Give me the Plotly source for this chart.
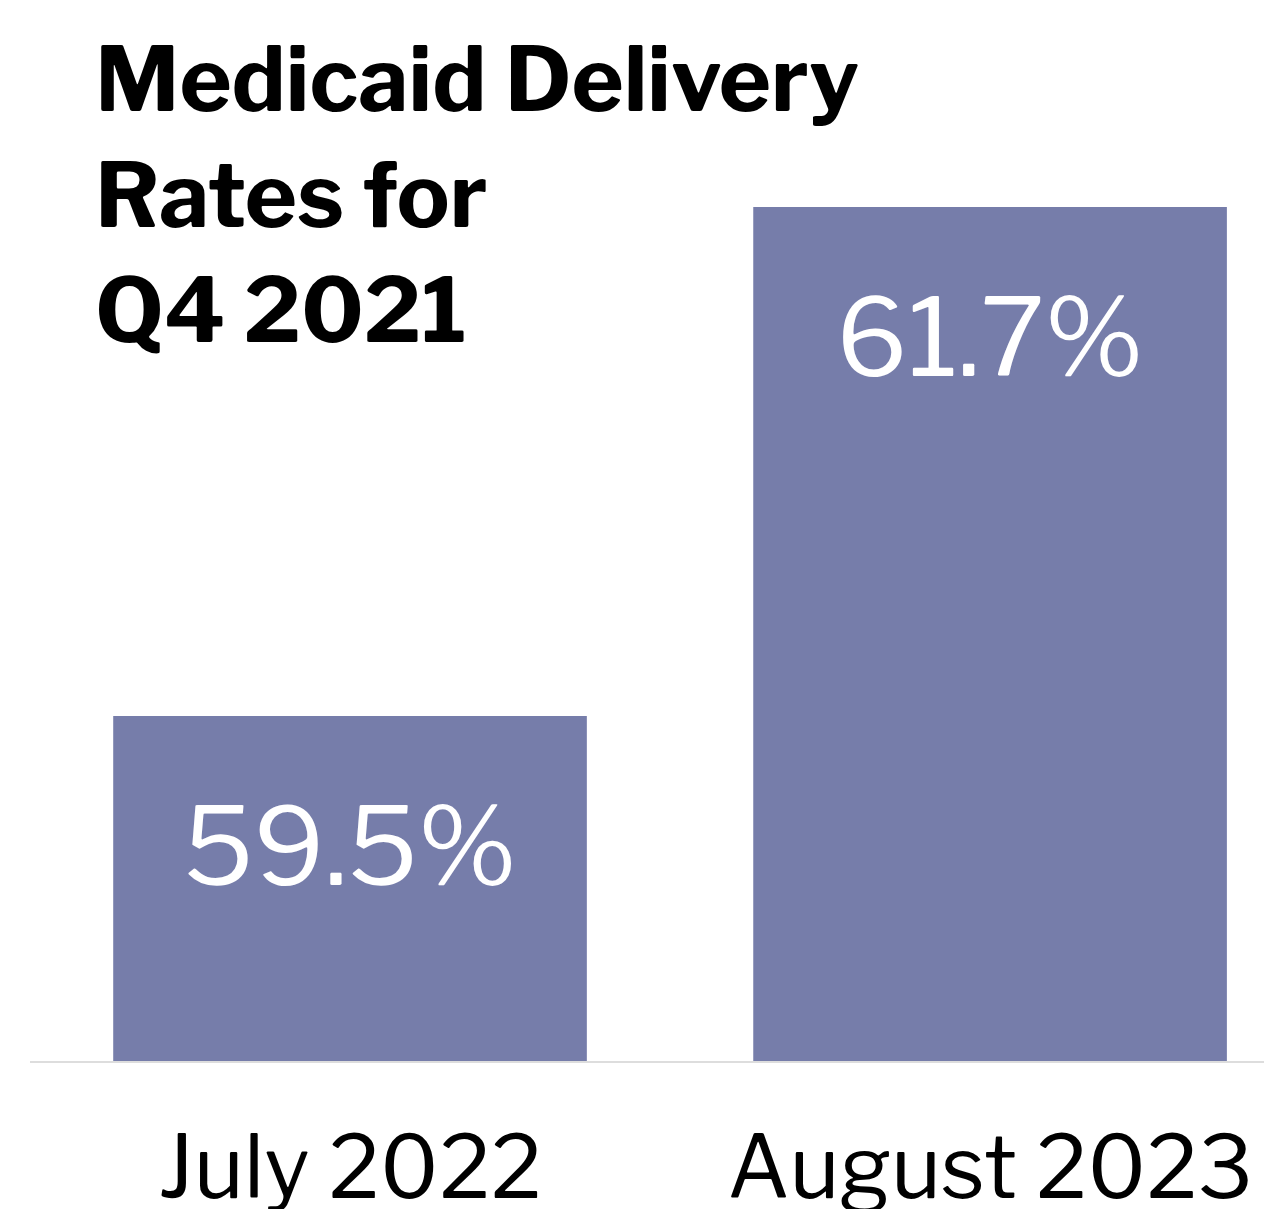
import plotly.graph_objects as go

categories = ["July 2022", "August 2023"]
values = [59.5, 61.7]
labels = ["59.5%", "61.7%"]
title_text = "Medicaid Delivery<br>Rates for<br>Q4 2021"

BAR = "#767DAA"
FONT = "Libre Franklin, Lato, sans-serif"

fig = go.Figure()
fig.add_trace(go.Bar(
    x=categories, y=values, marker=dict(color=BAR, line=dict(width=0)),
    width=0.74, hoverinfo="skip"))

for c, v, t in zip(categories, values, labels):
    fig.add_annotation(x=c, y=v, text=t, showarrow=False, yanchor="top",
                       yshift=-63, font=dict(family=FONT, size=108, color="white"))

fig.update_layout(
    width=1264, height=1209,
    margin=dict(l=30, r=0, t=0, b=148, autoexpand=False),
    paper_bgcolor="white", plot_bgcolor="white",
    showlegend=False,
    title=dict(text=title_text, x=95/1264, xanchor="left", xref="container",
               y=1 - 111/1209, yanchor="top", yref="container",
               font=dict(family=FONT, size=89, color="black", weight="bold")),
    xaxis=dict(range=[-0.5, 1.428], showgrid=False, showline=True,
               linecolor="#dddddd", linewidth=2, ticks="",
               ticklabelstandoff=32, automargin=False,
               tickfont=dict(family=FONT, size=86, color="black")),
    yaxis=dict(range=[58.009, 62.595], visible=False, showgrid=False,
               zeroline=False, automargin=False),
    bargap=0.26,
)

fig.write_html("out.html")
